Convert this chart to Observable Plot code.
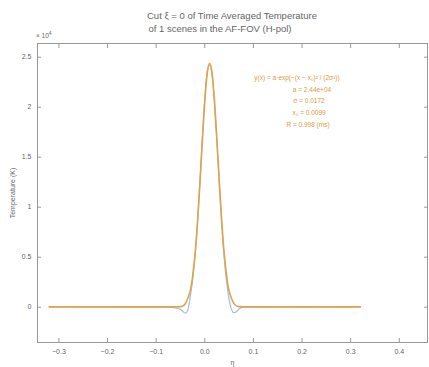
<!DOCTYPE html>
<html>
<head>
<meta charset="utf-8">
<script src="https://cdn.jsdelivr.net/npm/d3@7"></script>
<script src="https://cdn.jsdelivr.net/npm/@observablehq/plot@0.6"></script>
<style>
  body { margin: 0; background: #fff; }
  #wrap { position: relative; width: 429px; height: 367px; font-family: "Liberation Sans", Arial, sans-serif; }
  .t { position: absolute; white-space: nowrap; color: #666; }
</style>
</head>
<body>
<div id="wrap"></div>
<script>
// ---- data ----
const titleLines = ["Cut \u03BE = 0 of Time Averaged Temperature", "of 1 scenes in the AF-FOV (H-pol)"];
const xLabel = "\u03B7";
const yLabel = "Temperature (K)";
const xTicks = [-0.3, -0.2, -0.1, 0, 0.1, 0.2, 0.3, 0.4];
const yTicks = [0, 5000, 10000, 15000, 20000, 25000];
const fitText = ["y(x) = a\u00B7exp(\u2212(x \u2212 x\u2080)\u00B2 / (2\u03C3\u00B2))", "a = 2.44e+04", "\u03C3 = 0.0172", "x\u2080 = 0.0099", "R = 0.998 (ms)"];

// measured (time averaged) cut
const dataX = [-0.32, -0.30, -0.28, -0.26, -0.24, -0.22, -0.20, -0.18, -0.16, -0.14, -0.12, -0.10, -0.08, -0.06, -0.05, -0.045, -0.04, -0.035, -0.03, -0.025, -0.02, -0.015, -0.01, -0.005, 0, 0.005, 0.01, 0.015, 0.02, 0.025, 0.03, 0.035, 0.04, 0.045, 0.05, 0.055, 0.06, 0.065, 0.07, 0.08, 0.10, 0.12, 0.14, 0.16, 0.18, 0.20, 0.22, 0.24, 0.26, 0.28, 0.30, 0.32];
const dataT = [60, 40, 50, 30, 20, 40, 30, 10, 20, 0, 30, 10, 20, -80, -200, -420, -600, -300, 1000, 2700, 5100, 8400, 12500, 16900, 20900, 23500, 24200, 23200, 20400, 16500, 12200, 8200, 4900, 2500, 800, -250, -550, -450, -200, 0, 30, 10, 40, 20, 30, 10, 40, 20, 30, 10, 20, 30];

// Gaussian fit curve
const fitX = [-0.32, -0.10, -0.06, -0.05, -0.04, -0.03, -0.025, -0.02, -0.015, -0.01, -0.005, 0, 0.005, 0.01, 0.015, 0.02, 0.025, 0.03, 0.035, 0.04, 0.045, 0.05, 0.06, 0.07, 0.08, 0.12, 0.32];
const fitT = [30, 30, 30, 56, 357, 1630, 3080, 5330, 8490, 12410, 16680, 20600, 23390, 24400, 23390, 20600, 16680, 12410, 8490, 5330, 3080, 1630, 357, 56, 30, 30, 30];

const data = dataX.map((x, i) => ({x, y: dataT[i]}));
const fit = fitX.map((x, i) => ({x, y: fitT[i]}));

const fmtY = d => String(d / 10000);

const chart = Plot.plot({
  width: 429,
  height: 367,
  marginTop: 43,
  marginBottom: 25,
  marginLeft: 37,
  marginRight: 2,
  style: {fontFamily: "Liberation Sans, Arial, sans-serif", fontSize: "7px", color: "#666", background: "#fff"},
  x: {domain: [-0.344, 0.458]},
  y: {domain: [-3530, 26370]},
  marks: [
    Plot.frame({stroke: "#999", strokeWidth: 1}),
    Plot.axisX(xTicks, {anchor: "bottom", tickSize: 4, dy: -4, tickPadding: 7, stroke: "#999", color: "#666", label: xLabel, labelArrow: "none", labelAnchor: "center", labelOffset: 22, fontSize: 7}),
    Plot.axisX(xTicks, {anchor: "top", tickSize: 4, dy: 4, stroke: "#999", tickFormat: () => "", label: null}),
    Plot.axisY(yTicks, {anchor: "left", tickSize: 4, dx: 4, tickPadding: 6, stroke: "#999", tickFormat: fmtY, label: yLabel, labelArrow: "none", labelAnchor: "center", labelOffset: 27, fontSize: 7}),
    Plot.axisY(yTicks, {anchor: "right", tickSize: 4, dx: -4, stroke: "#999", tickFormat: () => "", label: null}),
    Plot.line(data, {x: "x", y: "y", stroke: "#9dbfe3", strokeWidth: 1.2, curve: "monotone-x"}),
    Plot.line(fit, {x: "x", y: "y", stroke: "#e3a24a", strokeWidth: 1.6, curve: "natural"})
  ]
});

const wrap = document.getElementById("wrap");
wrap.appendChild(chart);

function addText(txt, left, top, size, color, anchor) {
  const d = document.createElement("div");
  d.className = "t";
  d.textContent = txt;
  d.style.fontSize = size + "px";
  d.style.top = top + "px";
  d.style.left = left + "px";
  if (color) d.style.color = color;
  d.style.transform = anchor === "middle" ? "translate(-50%, -50%)" : "translate(0, -50%)";
  wrap.appendChild(d);
}
addText(titleLines[0], 232, 15, 9.5, "#666", "middle");
addText(titleLines[1], 220, 28, 9.5, "#666", "middle");
// exponent label
const ex = document.createElement("div");
ex.className = "t";
ex.innerHTML = "\u00D7 10<sup style='font-size:5px'>4</sup>";
ex.style.fontSize = "6.5px";
ex.style.left = "36px";
ex.style.top = "30px";
wrap.appendChild(ex);

const fitY = [77, 89, 100, 112, 124];
const fitCx = [297, 312, 309, 309, 308];
fitText.forEach((t, i) => addText(t, fitCx[i], fitY[i], 6.5, "#e09a3c", "middle"));
</script>
</body>
</html>
